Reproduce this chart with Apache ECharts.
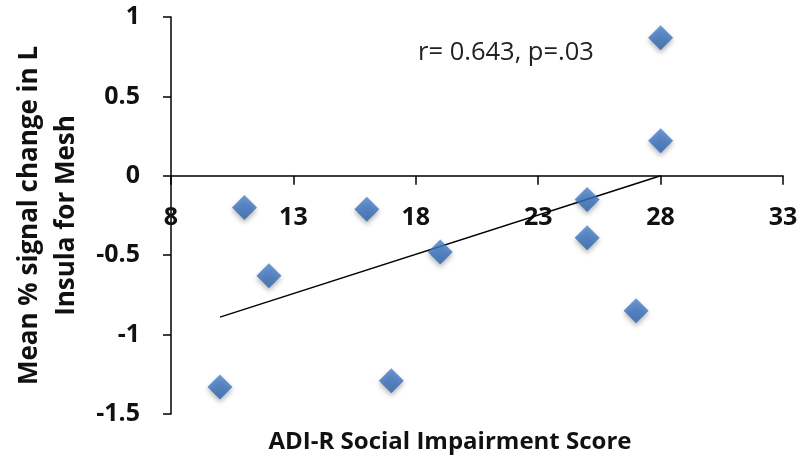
<!DOCTYPE html>
<html>
  <head>
    <meta charset="UTF-8">
    <title>ADI-R vs insula signal</title>
    <script src="https://cdn.jsdelivr.net/npm/echarts@6/dist/echarts.min.js"></script>
    <style>
      html, body { margin: 0; padding: 0; background: #fff; }
      #main { width: 806px; height: 464px; }
    </style>
  </head>
  <body>
    <div id="main"></div>
    <script type="text/javascript">
      // values
      var scoreX = [10, 11, 12, 16, 17, 19, 25, 25, 27, 28, 28];
      var signalY = [-1.33, -0.20, -0.63, -0.21, -1.29, -0.48, -0.15, -0.39, -0.85, 0.87, 0.22];
      // fitted line end points
      var trendX = [10, 28];
      var trendY = [-0.89, 0];
      var statText = 'r= 0.643, p=.03';

      var points = [];
      for (var i = 0; i < scoreX.length; i++) {
        points.push([scoreX[i], signalY[i]]);
      }
      var trend = [];
      for (var j = 0; j < trendX.length; j++) {
        trend.push([trendX[j], trendY[j]]);
      }

      var chart = echarts.init(document.getElementById('main'));
      var font = "'Open Sans', 'DejaVu Sans', sans-serif";

      var gridTop = 17, gridBottom = 50, yMin = -1.5, yMax = 1;
      var plotH = 464 - gridTop - gridBottom;
      // x axis sits on y = 0, so shift it up from the grid bottom
      var zeroShift = -(plotH * (0 - yMin) / (yMax - yMin));

      chart.setOption({
        animation: false,
        backgroundColor: '#fff',
        grid: { left: 171, right: 23, top: gridTop, bottom: gridBottom, containLabel: false, outerBoundsMode: 'none' },
        xAxis: {
          type: 'value',
          min: 8, max: 33, interval: 5,
          offset: zeroShift,
          splitLine: { show: false },
          axisLine: { onZero: false, lineStyle: { color: '#000', width: 1.5 } },
          axisTick: { inside: false, length: 9, lineStyle: { color: '#000', width: 1.5 } },
          axisLabel: { margin: 30, color: '#111', fontFamily: font, fontWeight: 'bold', fontSize: 25 },
          name: 'ADI-R Social Impairment Score',
          nameLocation: 'middle',
          nameGap: 254,
          nameTextStyle: { color: '#111', fontFamily: font, fontWeight: 'bold', fontSize: 24, padding: [0, 54, 0, 0] }
        },
        yAxis: {
          type: 'value',
          min: yMin, max: yMax, interval: 0.5,
          splitLine: { show: false },
          axisLine: { show: true, lineStyle: { color: '#000', width: 1.5 } },
          axisTick: { show: true, length: 8, lineStyle: { color: '#000', width: 1.5 } },
          axisLabel: { margin: 31, color: '#111', fontFamily: font, fontWeight: 'bold', fontSize: 25 },
          name: 'Mean % signal change in L\nInsula for Mesh',
          nameLocation: 'middle',
          nameRotate: 90,
          nameGap: 86,
          nameTextStyle: { color: '#111', fontFamily: font, fontWeight: 'bold', fontSize: 26, lineHeight: 37, align: 'center' }
        },
        graphic: [
          {
            type: 'text',
            left: 418,
            top: 40,
            style: { text: statText, fill: '#222', font: "25.5px 'Open Sans', sans-serif" }
          }
        ],
        series: [
          {
            type: 'line',
            data: trend,
            symbol: 'none',
            lineStyle: { color: '#000', width: 1.5 },
            z: 3
          },
          {
            type: 'scatter',
            data: points,
            symbol: 'diamond',
            symbolSize: 25,
            itemStyle: {
              color: new echarts.graphic.LinearGradient(0, 0, 0, 1, [
                { offset: 0, color: '#4a82cc' },
                { offset: 1, color: '#2b63b0' }
              ]),
              shadowBlur: 5,
              shadowOffsetY: 3,
              shadowColor: 'rgba(0,0,0,0.35)'
            },
            z: 4
          }
        ]
      });
    </script>
  </body>
</html>
